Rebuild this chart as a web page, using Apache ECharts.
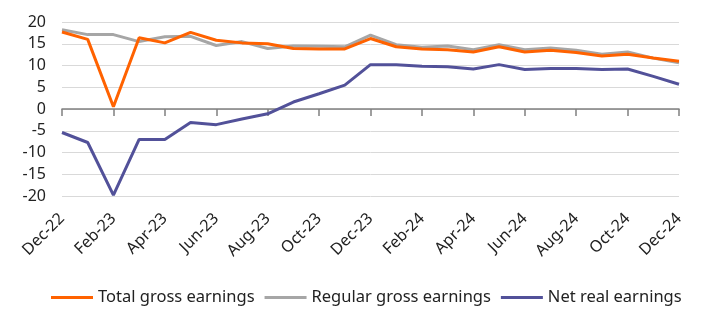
<!DOCTYPE html>
<html><head><meta charset="utf-8">
<script src="https://cdn.jsdelivr.net/npm/echarts@6/dist/echarts.min.js"></script>
<style>html,body{margin:0;padding:0;background:#fff}#c{width:717px;height:326px}</style>
</head><body><div id="c"></div>
<script>
const categories = ["Dec-22","Jan-23","Feb-23","Mar-23","Apr-23","May-23","Jun-23","Jul-23","Aug-23","Sep-23","Oct-23","Nov-23","Dec-23","Jan-24","Feb-24","Mar-24","Apr-24","May-24","Jun-24","Jul-24","Aug-24","Sep-24","Oct-24","Nov-24","Dec-24"];
const totalGross = [17.7,16.0,0.5,16.4,15.2,17.6,15.8,15.2,15.0,13.9,13.8,13.8,16.2,14.3,13.8,13.6,13.1,14.3,13.1,13.5,13.0,12.2,12.6,11.7,11.0];
const regularGross = [18.2,17.1,17.1,15.5,16.6,16.7,14.6,15.5,13.9,14.5,14.4,14.3,17.0,14.8,14.2,14.5,13.6,14.8,13.6,14.0,13.5,12.6,13.1,11.7,10.6];
const netReal = [-5.4,-7.7,-19.8,-7.0,-7.0,-3.1,-3.6,-2.3,-1.1,1.6,3.5,5.5,10.2,10.2,9.8,9.7,9.2,10.2,9.1,9.3,9.3,9.1,9.2,7.5,5.7];
const seriesNames = ["Total gross earnings","Regular gross earnings","Net real earnings"];
const colors = ["#FF6200","#A6A6A6","#525199"];

const font = "Noto Sans";
const chart = echarts.init(document.getElementById('c'), null, {renderer:'canvas'});
chart.setOption({
  animation:false,
  color: colors,
  grid:{left:62,right:38,top:22,bottom:130,containLabel:false},
  legend:{
    left:46, top:284, itemWidth:42, itemHeight:3, itemGap:10, icon:'rect',
    textStyle:{fontFamily:font,fontSize:16.5,color:'#222'},
    data: seriesNames
  },
  xAxis:[{
    type:'category', data:categories, boundaryGap:false,
    axisLine:{onZero:true,lineStyle:{color:'#808080',width:1.5}},
    axisTick:{show:true,interval:1,length:7,lineStyle:{color:'#808080',width:1.5}},
    axisLabel:{show:false},
    splitLine:{show:false}
  },{
    type:'category', data:categories, boundaryGap:false, position:'bottom',
    axisLine:{show:false,onZero:false}, axisTick:{show:false},
    axisLabel:{interval:1,rotate:45,margin:20,fontFamily:font,fontSize:16,color:'#222'}
  }],
  yAxis:{
    type:'value', min:-20, max:20, interval:5,
    axisLine:{show:false}, axisTick:{show:false},
    axisLabel:{fontFamily:font,fontSize:16,color:'#222',margin:16},
    splitLine:{lineStyle:{color:'#D9D9D9',width:1}}
  },
  series:[
    {name:seriesNames[0],type:'line',data:totalGross,symbol:'none',lineStyle:{width:3},z:3},
    {name:seriesNames[1],type:'line',data:regularGross,symbol:'none',lineStyle:{width:3},z:2},
    {name:seriesNames[2],type:'line',data:netReal,symbol:'none',lineStyle:{width:3},z:4}
  ]
});
</script></body></html>
